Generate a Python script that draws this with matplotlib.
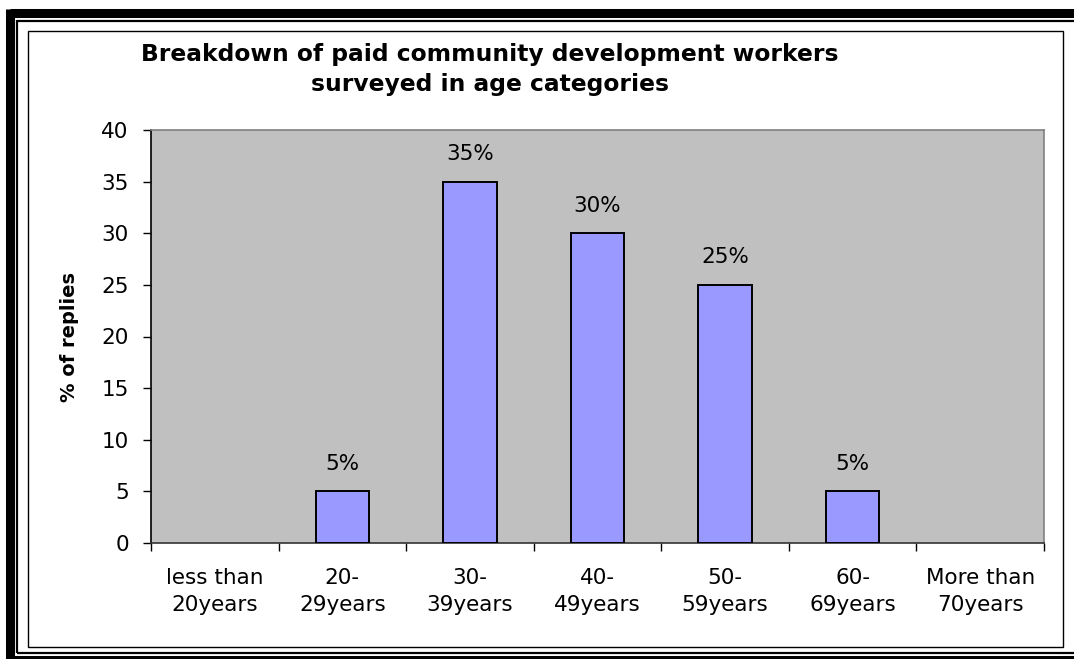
import numpy as np
import matplotlib
matplotlib.use("Agg")
import matplotlib.pyplot as plt
from matplotlib.patches import Rectangle
from matplotlib.lines import Line2D

plt.rcParams["font.family"] = ["DejaVu Sans"]

categories = ["less than\n20years", "20-\n29years", "30-\n39years", "40-\n49years",
              "50-\n59years", "60-\n69years", "More than\n70years"]
replies_pct = [0, 5, 35, 30, 25, 5, 0]
bar_labels = ["", "5%", "35%", "30%", "25%", "5%", ""]

W, H = 1074, 659
fig = plt.figure(figsize=(W / 100, H / 100), dpi=100)
fig.patch.set_facecolor("white")

# helpers that take pixel coordinates (origin top-left)
def px_rect(x0, y0, x1, y1, lw, color="black"):
    fig.add_artist(Rectangle((x0 / W, 1 - y1 / H), (x1 - x0) / W, (y1 - y0) / H,
                             transform=fig.transFigure, fill=False, lw=lw, ec=color))

def px_line(xs, ys, lw):
    fig.add_artist(Line2D([x / W for x in xs], [1 - y / H for y in ys],
                          transform=fig.transFigure, color="black", lw=lw,
                          solid_capstyle="butt"))

# thick outer frame (right edge runs off the image)
px_line([9.5, 1074], [13, 13], 6.5)
px_line([9.5, 9.5], [9, 659], 6.5)
px_line([9.5, 1074], [660, 660], 6.5)
# thin inner frame
px_line([16.5, 1074], [20.5, 20.5], 1.6)
px_line([16.5, 16.5], [20, 653], 1.6)
px_line([16.5, 1074], [652.5, 652.5], 1.6)
# chart area frame
px_rect(28, 31, 1063, 647, 1.0)

# plot area in pixels: left 151, right 1044, top 130, bottom 543
ax = fig.add_axes([151 / W, 1 - 543 / H, (1044 - 151) / W, (543 - 130) / H])
ax.set_facecolor("#C0C0C0")
x = np.arange(len(categories))
bars = ax.bar(x, replies_pct, width=0.42, color="#9999FF", edgecolor="black",
              linewidth=1.4, zorder=3)
for b, v in zip(bars, replies_pct):
    if v == 0:
        b.set_visible(False)
for xi, v, lab in zip(x, replies_pct, bar_labels):
    if lab:
        ax.text(xi, v + 1.7, lab, ha="center", va="bottom", fontsize=15.5)

ax.set_xlim(-0.5, len(categories) - 0.5)
ax.set_ylim(0, 40)
ax.set_yticks(np.arange(0, 41, 5))
ax.tick_params(axis="y", labelsize=15.5, length=6, width=1, direction="out", pad=10)
ax.set_xticks(np.arange(-0.5, len(categories), 1.0))
ax.set_xticklabels([])
ax.tick_params(axis="x", length=6, width=1, direction="out")
for xi, c in zip(x, categories):
    ax.text(xi, -2.4, c, ha="center", va="top", fontsize=15.5, linespacing=1.45)

for s in ["top", "right"]:
    ax.spines[s].set_color("#808080")
    ax.spines[s].set_linewidth(1.2)
ax.spines["left"].set_color("black")
ax.spines["bottom"].set_color("#333333")
ax.spines["left"].set_linewidth(1.2)
ax.spines["bottom"].set_linewidth(1.2)

ax.set_ylabel("% of replies", fontsize=14, fontweight="bold", labelpad=16)

fig.text(490 / W, 1 - 55 / H, "Breakdown of paid community development workers",
         ha="center", va="center", fontsize=16.8, fontweight="bold")
fig.text(490 / W, 1 - 85 / H, "surveyed in age categories",
         ha="center", va="center", fontsize=16.8, fontweight="bold")

fig.savefig("out.png", dpi=100)
